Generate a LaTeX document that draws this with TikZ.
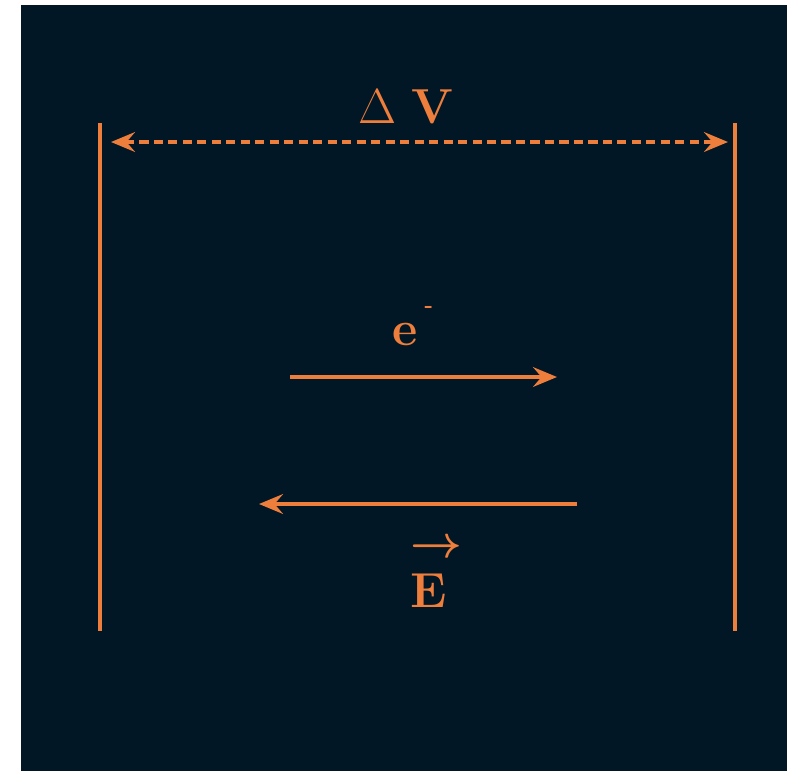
\RequirePackage{fix-cm}
\documentclass[tikz,border=0pt]{standalone}
\usepackage{fontspec}
\usepackage{tikz}
\usetikzlibrary{arrows.meta}
\definecolor{FieldBg}{RGB}{1,23,38}
\definecolor{FieldOrange}{RGB}{238,126,60}

\begin{document}
\begin{tikzpicture}[x=0.025cm, y=-0.025cm,
    plate/.style={FieldOrange, line width=3.1pt},
    flow/.style={FieldOrange, line width=2.9pt, -{Stealth[length=17pt, width=14pt, inset=6pt]}},
    lbl/.style={text=FieldOrange, font=\fontsize{35}{40}\selectfont, inner sep=0pt}]
    % Canvas
    \fill[white] (0,0) rectangle (787,771);
    \useasboundingbox (0,0) rectangle (787,771);
    \fill[FieldBg] (21,5) rectangle (787,771);
    % Plates
    \coordinate (L top) at (100,123);
    \coordinate (L bot) at (100,631);
    \coordinate (R top) at (735,123);
    \coordinate (R bot) at (735,631);
    \draw[plate] (L top) -- (L bot);
    \draw[plate] (R top) -- (R bot);
    % Potential difference
    \coordinate (dV left) at (111,142);
    \coordinate (dV right) at (728,142);
    \draw[plate, line width=2.8pt, dash pattern=on 6.5pt off 3.8pt,
          {Stealth[length=17pt, width=14pt, inset=6pt]}-{Stealth[length=17pt, width=14pt, inset=6pt]}]
          (dV left) -- (dV right);
    \node[lbl, anchor=base] (dV) at (406,123) {$\Delta$ \textbf{V}};
    % Electron
    \coordinate (e tail) at (290,377);
    \coordinate (e head) at (557,377);
    \draw[flow] (e tail) -- (e head);
    \node[lbl, anchor=base west] (elec) at (392,345)
          {\textbf{e}\hspace{5pt}\raisebox{23pt}{\fontsize{16}{16}\selectfont\textbf{-}}};
    % Field
    \coordinate (E tail) at (577,504);
    \coordinate (E head) at (259,504);
    \draw[flow] (E tail) -- (E head);
    \node[lbl, anchor=base] (Efield) at (429,607) {\textbf{E}};
    \node[lbl, font=\fontsize{32}{36}\selectfont\mathversion{bold}] (Earrow) at (436,549) {$\rightarrow$};
\end{tikzpicture}
\end{document}
